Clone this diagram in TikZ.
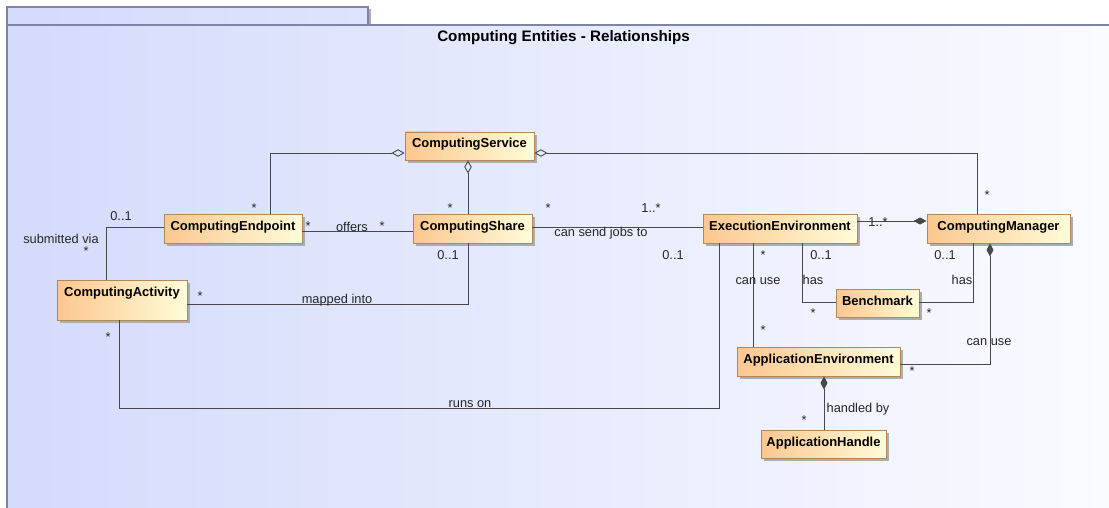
\documentclass[tikz,border=0pt]{standalone}
\usepackage{fontspec}
\setmainfont{Liberation Sans}
\usetikzlibrary{arrows.meta,shadows}

\definecolor{bgleft}{RGB}{212,219,251}
\definecolor{bgright}{RGB}{250,251,255}
\definecolor{tabright}{RGB}{222,228,252}
\definecolor{framecol}{RGB}{125,132,165}
\definecolor{clsleft}{RGB}{252,199,143}
\definecolor{clsright}{RGB}{255,252,216}
\definecolor{clsborder}{RGB}{178,135,92}
\definecolor{linecol}{RGB}{72,72,72}

\begin{document}
\begin{tikzpicture}[x=1pt,y=-1pt,
  frame/.style={draw=framecol, line width=1.1pt},
  cls/.style={draw=clsborder, line width=0.9pt, left color=clsleft, right color=clsright,
    font=\bfseries\fontsize{13}{15}\selectfont, text height=9pt, text depth=5pt, inner sep=0pt,
    drop shadow={shadow xshift=3pt, shadow yshift=-3pt, fill=black!32, opacity=1}},
  assoc/.style={draw=linecol, line width=0.9pt},
  agg/.style={assoc, {Diamond[open, length=13pt, width=7.5pt]}-},
  comp/.style={assoc, {Diamond[length=13pt, width=7pt]}-},
  lbl/.style={font=\fontsize{12.8}{15}\selectfont, inner sep=0pt, anchor=base, text=black!85},
  title/.style={font=\bfseries\fontsize{15.2}{17}\selectfont, inner sep=0pt, anchor=base}]

\useasboundingbox (0,0) rectangle (1109,508);

% package frame with its tab
\shade[left color=bgleft, right color=bgright] (7,25) rectangle (1109,508);
\shade[left color=bgleft, right color=tabright] (7,7) rectangle (368,25);
\fill[black!32] (368,9) rectangle (371,25);
\draw[frame] (7,7) rectangle (368,25);
\draw[frame] (7,508) -- (7,25) -- (1109,25);
\node[title] (title) at (563.5,42) {Computing Entities - Relationships};

% classes
\node[cls, minimum width=129pt, minimum height=28pt] (svc)    at (469.5,146)   {ComputingService};
\node[cls, minimum width=119pt, minimum height=29pt] (share)  at (472.5,228.5) {ComputingShare};
\node[cls, minimum width=138pt, minimum height=29pt] (endp)   at (233,228.5)   {ComputingEndpoint};
\node[cls, minimum width=130pt, minimum height=40pt, text depth=16pt] (act) at (122,300) {ComputingActivity};
\node[cls, minimum width=154pt, minimum height=29pt] (exec)   at (780,228.5)   {ExecutionEnvironment};
\node[cls, minimum width=143pt, minimum height=29pt] (mgr)    at (998.5,228.5) {ComputingManager};
\node[cls, minimum width=83pt,  minimum height=28pt] (bench)  at (877.5,303)   {Benchmark};
\node[cls, minimum width=163pt, minimum height=29pt] (appenv) at (818.5,361.5) {ApplicationEnvironment};
\node[cls, minimum width=125pt, minimum height=28pt] (apph)   at (823.5,444)   {ApplicationHandle};

% aggregations of the service
\draw[agg] ([yshift=-7pt]svc.west) -| ([xshift=37pt]endp.north);
\draw[agg] ([yshift=-7pt]svc.east) -| ([xshift=-21.5pt]mgr.north);
\draw[agg] ([xshift=-1.5pt]svc.south) -- ([xshift=-4.5pt]share.north);

% associations
\draw[assoc] ([yshift=-2.5pt]endp.east) -- ([yshift=-2.5pt]share.west);
\draw[assoc] ([yshift=1.5pt]endp.west) -| ([xshift=-16pt]act.north);
\draw[assoc] ([yshift=-4pt]act.east) -| ([xshift=-4.5pt]share.south);
\draw[assoc] ([yshift=1.5pt]share.east) -- ([yshift=1.5pt]exec.west);
\draw[assoc] ([xshift=-3pt]act.south) -- ++(0,88) -| ([xshift=-61pt]exec.south);
\draw[assoc] ([xshift=-27pt]exec.south) -- ([xshift=-27pt]exec.south |- appenv.north);
\draw[assoc] ([xshift=22pt]exec.south) |- ([yshift=1pt]bench.west);
\draw[assoc] ([xshift=-25.5pt]mgr.south) |- ([yshift=1pt]bench.east);

% compositions
\draw[comp] ([yshift=7.5pt]mgr.west) -- ([yshift=7.5pt]exec.east);
\draw[comp] ([xshift=-8.5pt]mgr.south) |- ([yshift=-2.5pt]appenv.east);
\draw[comp] ([xshift=5.5pt]appenv.south) -- ([xshift=0.5pt]apph.north);

% role names and multiplicities
\node[lbl] (m1)  at (254,212)   {*};
\node[lbl] (m2)  at (987,200)   {*};
\node[lbl] (m3)  at (450,212)   {*};
\node[lbl] (m4)  at (308,230)   {*};
\node[lbl] (m5)  at (382,230)   {*};
\node[lbl] (m6)  at (86,255)    {*};
\node[lbl] (m7)  at (200,300)   {*};
\node[lbl] (m8)  at (548,212)   {*};
\node[lbl] (m9)  at (108,341)   {*};
\node[lbl] (m10) at (763,259)   {*};
\node[lbl] (m11) at (763,334)   {*};
\node[lbl] (m12) at (813,317)   {*};
\node[lbl] (m13) at (929,317)   {*};
\node[lbl] (m14) at (912,375)   {*};
\node[lbl] (m15) at (804,424)   {*};

\node[lbl] (r1)  at (121,220.5) {0..1};
\node[lbl] (r2)  at (448,259.5) {0..1};
\node[lbl] (r3)  at (651,212.5) {1..*};
\node[lbl] (r4)  at (673,259.5) {0..1};
\node[lbl] (r5)  at (821,259.5) {0..1};
\node[lbl] (r6)  at (945,259.5) {0..1};
\node[lbl] (r7)  at (878,226)   {1..*};

\node[lbl] (a1)  at (61,243.5)  {submitted via};
\node[lbl] (a2)  at (352,231)   {offers};
\node[lbl] (a3)  at (337,303.5) {mapped into};
\node[lbl] (a4)  at (601,236.5) {can send jobs to};
\node[lbl] (a5)  at (470,407)   {runs on};
\node[lbl] (a6)  at (758,284.5) {can use};
\node[lbl] (a7)  at (813,284.5) {has};
\node[lbl] (a8)  at (962,284.5) {has};
\node[lbl] (a9)  at (989,345)   {can use};
\node[lbl] (a10) at (858,412.5) {handled by};

\end{tikzpicture}
\end{document}
